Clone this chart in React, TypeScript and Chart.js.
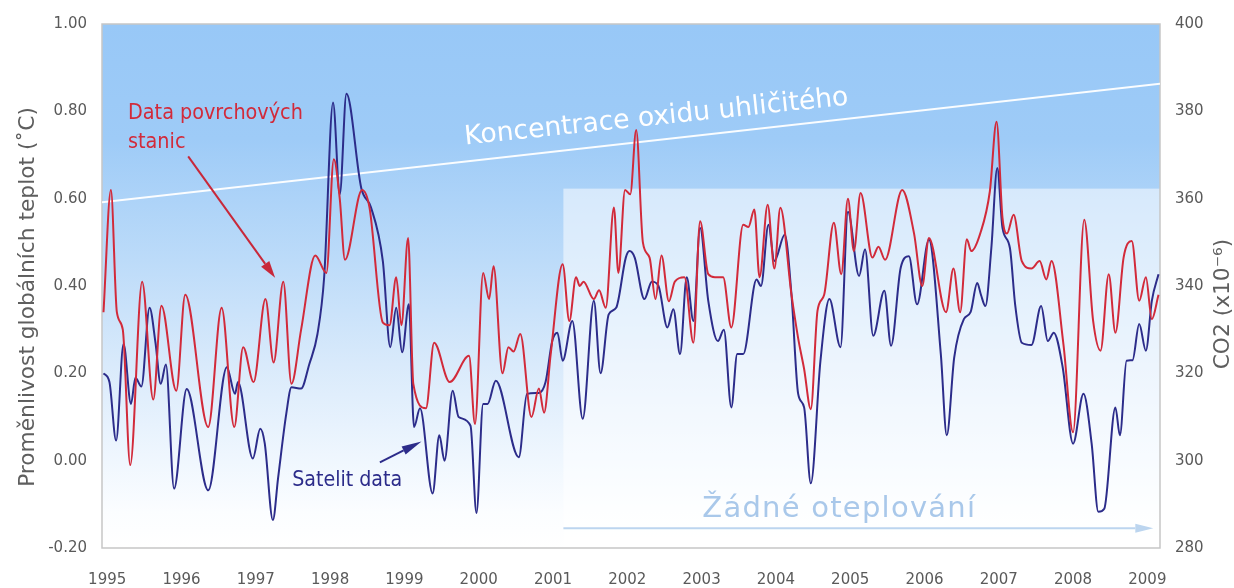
import React, { useEffect, useRef } from "react";
import { Chart, registerables } from "chart.js";

Chart.register(...registerables);

// ---------- DATA ----------
const yearTicks = [1995, 1996, 1997, 1998, 1999, 2000, 2001, 2002, 2003, 2004, 2005, 2006, 2007, 2008, 2009];
const tempTicks = [-0.2, 0, 0.2, 0.4, 0.6, 0.8, 1.0];
const co2Ticks = [280, 300, 320, 340, 360, 380, 400];

const surfaceYears = [
  1994.95, 1995.05, 1995.13, 1995.21, 1995.31, 1995.47, 1995.62, 1995.73, 1995.93, 1996.05,
  1996.36, 1996.54, 1996.71, 1996.83, 1996.97, 1997.13, 1997.24, 1997.37, 1997.48, 1997.61,
  1997.8, 1997.95, 1998.05, 1998.13, 1998.2, 1998.43, 1998.53, 1998.71, 1998.8, 1998.89,
  1998.96, 1999.05, 1999.12, 1999.29, 1999.4, 1999.61, 1999.87, 1999.95, 2000.06, 2000.14,
  2000.2, 2000.32, 2000.4, 2000.47, 2000.56, 2000.71, 2000.81, 2000.88, 2000.97, 2001.13,
  2001.22, 2001.31, 2001.36, 2001.41, 2001.55, 2001.62, 2001.71, 2001.82, 2001.88, 2001.97,
  2002.04, 2002.12, 2002.21, 2002.3, 2002.38, 2002.46, 2002.56, 2002.64, 2002.77, 2002.89,
  2002.98, 2003.09, 2003.18, 2003.29, 2003.4, 2003.56, 2003.63, 2003.71, 2003.78, 2003.89,
  2003.98, 2004.06, 2004.21, 2004.3, 2004.38, 2004.47, 2004.56, 2004.65, 2004.78, 2004.88,
  2004.97, 2005.05, 2005.14, 2005.3, 2005.38, 2005.47, 2005.7, 2005.86, 2005.97, 2006.06,
  2006.29, 2006.39, 2006.48, 2006.57, 2006.63, 2006.75, 2006.88, 2006.97, 2007.05, 2007.11,
  2007.2, 2007.31, 2007.44, 2007.55, 2007.64, 2007.71, 2007.87, 2008.0, 2008.15, 2008.27,
  2008.37, 2008.48, 2008.57, 2008.68, 2008.79, 2008.89, 2008.98, 2009.06, 2009.15,
];
const surfaceValues = [
  0.34, 0.62, 0.34, 0.30, -0.01, 0.41, 0.14, 0.355, 0.16, 0.38,
  0.077, 0.35, 0.077, 0.26, 0.18, 0.37, 0.225, 0.41, 0.176, 0.30,
  0.47, 0.43, 0.69, 0.60, 0.46, 0.62, 0.58, 0.316, 0.31, 0.42,
  0.31, 0.51, 0.176, 0.12, 0.27, 0.18, 0.24, 0.084, 0.43, 0.37,
  0.445, 0.20, 0.26, 0.25, 0.29, 0.10, 0.165, 0.11, 0.245, 0.45,
  0.32, 0.42, 0.40, 0.41, 0.37, 0.39, 0.35, 0.58, 0.43, 0.62,
  0.61, 0.757, 0.50, 0.465, 0.37, 0.47, 0.365, 0.41, 0.42, 0.27,
  0.548, 0.427, 0.42, 0.42, 0.305, 0.54, 0.535, 0.575, 0.42, 0.586,
  0.44, 0.579, 0.38, 0.28, 0.21, 0.118, 0.343, 0.38, 0.545, 0.427,
  0.60, 0.48, 0.613, 0.465, 0.49, 0.46, 0.62, 0.52, 0.40, 0.51,
  0.34, 0.44, 0.34, 0.507, 0.48, 0.52, 0.617, 0.776, 0.556, 0.52,
  0.563, 0.457, 0.44, 0.457, 0.415, 0.457, 0.267, 0.065, 0.552, 0.32,
  0.252, 0.427, 0.293, 0.465, 0.503, 0.366, 0.42, 0.324, 0.38,
];

const satelliteYears = [
  1994.95, 1995.03, 1995.12, 1995.22, 1995.32, 1995.38, 1995.46, 1995.57, 1995.65, 1995.72,
  1995.79, 1995.9, 1996.07, 1996.36, 1996.61, 1996.72, 1996.76, 1996.96, 1997.06, 1997.12,
  1997.23, 1997.3, 1997.41, 1997.48, 1997.61, 1997.72, 1997.83, 1997.92, 1998.04, 1998.13,
  1998.22, 1998.42, 1998.55, 1998.71, 1998.81, 1998.89, 1998.97, 1999.06, 1999.13, 1999.21,
  1999.38, 1999.47, 1999.54, 1999.65, 1999.73, 1999.89, 1999.97, 2000.06, 2000.12, 2000.23,
  2000.54, 2000.65, 2000.81, 2000.9, 2000.99, 2001.06, 2001.13, 2001.26, 2001.4, 2001.55,
  2001.64, 2001.75, 2001.85, 2001.98, 2002.03, 2002.1, 2002.23, 2002.33, 2002.42, 2002.54,
  2002.62, 2002.71, 2002.8, 2002.89, 2002.98, 2003.09, 2003.22, 2003.3, 2003.4, 2003.48,
  2003.56, 2003.74, 2003.8, 2003.9, 2003.98, 2004.12, 2004.21, 2004.3, 2004.38, 2004.47,
  2004.6, 2004.72, 2004.87, 2004.97, 2005.12, 2005.2, 2005.31, 2005.46, 2005.55, 2005.68,
  2005.79, 2005.9, 2006.06, 2006.22, 2006.3, 2006.4, 2006.53, 2006.62, 2006.71, 2006.76,
  2006.82, 2006.9, 2006.98, 2007.05, 2007.15, 2007.22, 2007.31, 2007.44, 2007.57, 2007.66,
  2007.74, 2007.86, 2008.0, 2008.14, 2008.25, 2008.34, 2008.42, 2008.57, 2008.63, 2008.72,
  2008.8, 2008.89, 2008.98, 2009.06, 2009.15,
];
const satelliteValues = [
  0.20, 0.18, 0.046, 0.267, 0.13, 0.19, 0.17, 0.35, 0.27, 0.176,
  0.22, -0.064, 0.164, -0.068, 0.214, 0.153, 0.18, 0.005, 0.073, 0.04,
  -0.136, -0.04, 0.107, 0.168, 0.165, 0.221, 0.29, 0.42, 0.82, 0.61,
  0.84, 0.624, 0.58, 0.457, 0.26, 0.35, 0.248, 0.358, 0.077, 0.12,
  -0.075, 0.058, 0.0, 0.16, 0.10, 0.08, -0.12, 0.13, 0.13, 0.183,
  0.008, 0.153, 0.155, 0.18, 0.274, 0.293, 0.229, 0.32, 0.096, 0.366,
  0.20, 0.335, 0.35, 0.465, 0.48, 0.465, 0.37, 0.41, 0.40, 0.305,
  0.347, 0.244, 0.42, 0.32, 0.533, 0.366, 0.274, 0.30, 0.122, 0.244,
  0.244, 0.415, 0.40, 0.54, 0.457, 0.518, 0.38, 0.153, 0.122, -0.052,
  0.229, 0.37, 0.26, 0.57, 0.423, 0.484, 0.286, 0.389, 0.263, 0.442,
  0.468, 0.358, 0.506, 0.244, 0.058, 0.236, 0.324, 0.34, 0.407, 0.38,
  0.354, 0.487, 0.67, 0.533, 0.487, 0.358, 0.27, 0.265, 0.354, 0.274,
  0.293, 0.214, 0.039, 0.153, 0.039, -0.117, -0.11, 0.122, 0.058, 0.229,
  0.23, 0.313, 0.252, 0.366, 0.427,
];

const co2Years = [1994.93, 2009.17];
const co2Values = [359.2, 386.3];

// axis range
const xMin = 1994.93;
const xMax = 2009.17;

// ---------- STYLE / ANNOTATION PLACEMENT (data coordinates) ----------
const FONT = "'DejaVu Sans', Verdana, sans-serif";
const TICK_COLOR = "#5a5a5a";
const RED = "#d22a3a";
const BLUE = "#2c2c8a";

const noWarmingStart = 2001.14;
const noWarmingTop = 0.623;

function drawArrow(ctx: CanvasRenderingContext2D, x1: number, y1: number, x2: number, y2: number,
  color: string, width: number, headLen: number, headW: number) {
  const ang = Math.atan2(y2 - y1, x2 - x1);
  const bx = x2 - Math.cos(ang) * headLen;
  const by = y2 - Math.sin(ang) * headLen;
  ctx.save();
  ctx.strokeStyle = color;
  ctx.fillStyle = color;
  ctx.lineWidth = width;
  ctx.beginPath();
  ctx.moveTo(x1, y1);
  ctx.lineTo(bx, by);
  ctx.stroke();
  ctx.beginPath();
  ctx.moveTo(x2, y2);
  ctx.lineTo(bx + Math.sin(ang) * headW / 2, by - Math.cos(ang) * headW / 2);
  ctx.lineTo(bx - Math.sin(ang) * headW / 2, by + Math.cos(ang) * headW / 2);
  ctx.closePath();
  ctx.fill();
  ctx.restore();
}

function fitSize(ctx: CanvasRenderingContext2D, text: string, family: string, target: number) {
  ctx.font = `20px ${family}`;
  const w = ctx.measureText(text).width;
  return (20 * target) / w;
}

const backgroundPlugin = {
  id: "bg",
  beforeDraw(chart: any) {
    const { ctx, chartArea: ca, scales } = chart;
    const x = scales.x, y = scales.y;
    ctx.save();
    ctx.fillStyle = "#ffffff";
    ctx.fillRect(0, 0, chart.width, chart.height);
    const g = ctx.createLinearGradient(0, ca.top, 0, ca.bottom);
    g.addColorStop(0, "#98c8f7");
    g.addColorStop(0.22, "#9ecbf7");
    g.addColorStop(0.45, "#bcdbf9");
    g.addColorStop(0.65, "#d9eafb");
    g.addColorStop(0.82, "#eef6fe");
    g.addColorStop(0.93, "#fbfdff");
    g.addColorStop(1, "#ffffff");
    ctx.fillStyle = g;
    ctx.fillRect(ca.left, ca.top, ca.width, ca.height);

    // "no warming" box
    const bx = x.getPixelForValue(noWarmingStart);
    const by = y.getPixelForValue(noWarmingTop);
    ctx.fillStyle = "rgba(255,255,255,0.52)";
    ctx.fillRect(bx, by, ca.right - bx, ca.bottom - by);

    // border
    ctx.strokeStyle = "#c6c6c6";
    ctx.lineWidth = 1.5;
    ctx.strokeRect(ca.left, ca.top, ca.width, ca.height);

    // Žádné oteplování text + arrow
    const text = "Žádné oteplování";
    ctx.font = `29px ${FONT}`;
    const w0 = ctx.measureText(text).width;
    const target = x.getPixelForValue(2006.68) - x.getPixelForValue(2003.01);
    (ctx as any).letterSpacing = `${Math.max(0, (target - w0) / (text.length - 1))}px`;
    ctx.fillStyle = "#a9c8ea";
    ctx.textAlign = "left";
    ctx.textBaseline = "alphabetic";
    ctx.fillText(text, x.getPixelForValue(2003.01), y.getPixelForValue(-0.129));
    (ctx as any).letterSpacing = "0px";
    const ay = y.getPixelForValue(-0.1545);
    drawArrow(ctx, bx, ay, x.getPixelForValue(2009.08), ay, "#bcd5ef", 2, 18, 9);
    ctx.restore();
  },
  afterDatasetsDraw(chart: any) {
    const { ctx, scales } = chart;
    const x = scales.x, y = scales.y, y2 = scales.y2;
    ctx.save();
    // CO2 label along the line
    const p1x = x.getPixelForValue(co2Years[0]), p1y = y2.getPixelForValue(co2Values[0]);
    const p2x = x.getPixelForValue(co2Years[1]), p2y = y2.getPixelForValue(co2Values[1]);
    const ang = Math.atan2(p2y - p1y, p2x - p1x);
    const co2Text = "Koncentrace oxidu uhličitého";
    const s = fitSize(ctx, co2Text, FONT, 386);
    ctx.font = `${s}px ${FONT}`;
    ctx.fillStyle = "#ffffff";
    ctx.textAlign = "left";
    ctx.textBaseline = "alphabetic";
    ctx.translate(x.getPixelForValue(1999.82), y2.getPixelForValue(372.4));
    ctx.rotate(ang * 0.93);
    ctx.fillText(co2Text, 0, 0);
    ctx.restore();

    ctx.save();
    // surface stations label
    const redFamily = "'DejaVu Sans Condensed', 'DejaVu Sans', sans-serif";
    const rs = fitSize(ctx, "Data povrchových", redFamily, 175);
    ctx.font = `${rs}px ${redFamily}`;
    ctx.fillStyle = RED;
    ctx.textAlign = "left";
    ctx.textBaseline = "alphabetic";
    ctx.fillText("Data povrchových", x.getPixelForValue(1995.28), y.getPixelForValue(0.783));
    ctx.fillText("stanic", x.getPixelForValue(1995.28), y.getPixelForValue(0.715));
    drawArrow(ctx, x.getPixelForValue(1996.09), y.getPixelForValue(0.697),
      x.getPixelForValue(1997.26), y.getPixelForValue(0.419), "#c8283a", 2, 17, 10);

    // satellite label
    const bs = fitSize(ctx, "Satelit data", redFamily, 110);
    ctx.font = `${bs}px ${redFamily}`;
    ctx.fillStyle = BLUE;
    ctx.fillText("Satelit data", x.getPixelForValue(1997.49), y.getPixelForValue(-0.057));
    drawArrow(ctx, x.getPixelForValue(1998.67), y.getPixelForValue(-0.004),
      x.getPixelForValue(1999.23), y.getPixelForValue(0.044), BLUE, 2, 20, 9);
    ctx.restore();
  },
  afterDraw(chart: any) {
    const { ctx } = chart;
    ctx.save();
    ctx.fillStyle = "#5e5e5e";
    ctx.textAlign = "center";
    ctx.textBaseline = "middle";
    const lt = "Proměnlivost globálních teplot (˚C)";
    const ls = fitSize(ctx, lt, FONT, 380);
    ctx.font = `${ls}px ${FONT}`;
    ctx.translate(28, 297);
    ctx.rotate(-Math.PI / 2);
    ctx.fillText(lt, 0, 0);
    ctx.restore();

    ctx.save();
    ctx.fillStyle = "#5e5e5e";
    ctx.textAlign = "center";
    ctx.textBaseline = "middle";
    const rt = "CO2 (x10⁻⁶)";
    ctx.font = `${ls}px ${FONT}`;
    ctx.translate(1223, 304);
    ctx.rotate(-Math.PI / 2);
    ctx.fillText(rt, 0, 0);
    ctx.restore();
  },
};

export default function App() {
  const ref = useRef<HTMLCanvasElement>(null);
  useEffect(() => {
    const canvas = ref.current;
    if (!canvas) return;
    const tickFont = { family: FONT, size: 15 };
    const chart = new Chart(canvas, {
      type: "line",
      data: {
        datasets: [
          {
            label: "Data povrchových stanic",
            data: surfaceYears.map((v, i) => ({ x: v, y: surfaceValues[i] })),
            borderColor: RED,
            borderWidth: 2,
            pointRadius: 0,
            cubicInterpolationMode: "monotone",
            yAxisID: "y",
          },
          {
            label: "Satelit data",
            data: satelliteYears.map((v, i) => ({ x: v, y: satelliteValues[i] })),
            borderColor: BLUE,
            borderWidth: 2,
            pointRadius: 0,
            cubicInterpolationMode: "monotone",
            yAxisID: "y",
          },
          {
            label: "CO2",
            data: co2Years.map((v, i) => ({ x: v, y: co2Values[i] })),
            borderColor: "rgba(255,255,255,0.95)",
            borderWidth: 2,
            pointRadius: 0,
            tension: 0,
            yAxisID: "y2",
          },
        ],
      } as any,
      options: {
        responsive: false,
        animation: false,
        devicePixelRatio: 1,
        layout: { padding: { top: 22, left: 0, right: 0, bottom: 0 } },
        plugins: { legend: { display: false }, tooltip: { enabled: false } },
        scales: {
          x: {
            type: "linear",
            position: "bottom",
            min: xMin,
            max: xMax,
            grid: { display: false, drawTicks: false },
            border: { display: false },
            ticks: { font: tickFont, color: TICK_COLOR, padding: 23, maxRotation: 0, autoSkip: false, callback: (v: any) => String(v) },
            afterBuildTicks: (s: any) => { s.ticks = yearTicks.map((v) => ({ value: v })); },
            afterFit: (s: any) => { s.height = 40; },
          },
          y: {
            type: "linear",
            position: "left",
            min: -0.2,
            max: 1.0,
            grid: { display: false, drawTicks: false },
            border: { display: false },
            ticks: { font: tickFont, color: TICK_COLOR, padding: 15, callback: (v: any) => Number(v).toFixed(2) },
            afterBuildTicks: (s: any) => { s.ticks = tempTicks.map((v) => ({ value: v })); },
            afterFit: (s: any) => { s.width = 102; },
          },
          y2: {
            type: "linear",
            position: "right",
            min: 280,
            max: 400,
            grid: { display: false, drawTicks: false },
            border: { display: false },
            ticks: { font: tickFont, color: TICK_COLOR, padding: 15, callback: (v: any) => String(v) },
            afterBuildTicks: (s: any) => { s.ticks = co2Ticks.map((v) => ({ value: v })); },
            afterFit: (s: any) => { s.width = 74; },
          },
        },
      } as any,
      plugins: [backgroundPlugin as any],
    });
    return () => chart.destroy();
  }, []);
  return (
    <div style={{ position: "absolute", left: 0, top: 0, width: 1234, height: 588, background: "#ffffff" }}>
      <canvas ref={ref} width={1234} height={588} style={{ display: "block" }} />
    </div>
  );
}
